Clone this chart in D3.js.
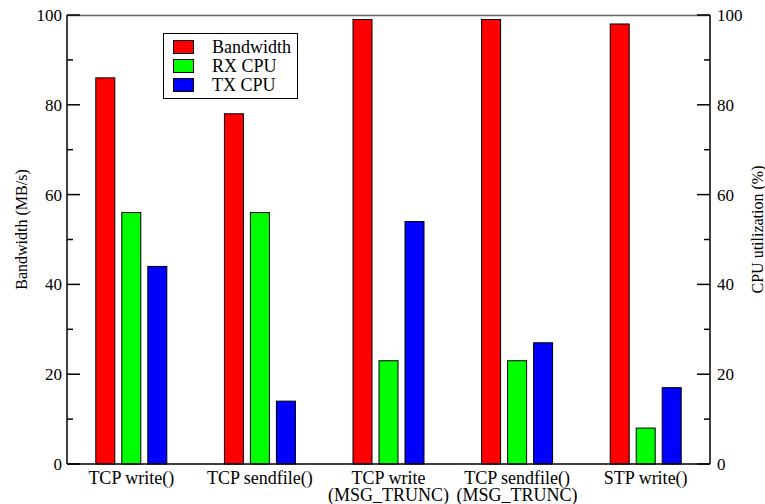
<!DOCTYPE html>
<html>
<head>
<meta charset="utf-8">
<script src="https://cdn.jsdelivr.net/npm/d3@7"></script>
<style>
  body { margin: 0; background: #fff; }
</style>
</head>
<body>
<div id="chart"></div>
<script>
// Data
const categories = [["TCP write()"], ["TCP sendfile()"], ["TCP write", "(MSG_TRUNC)"], ["TCP sendfile()", "(MSG_TRUNC)"], ["STP write()"]];
const seriesNames = ["Bandwidth", "RX CPU", "TX CPU"];
const bandwidth = [86, 78, 99, 99, 98];
const rxCpu = [56, 56, 23, 23, 8];
const txCpu = [44, 14, 54, 27, 17];
const majorTicks = [0, 20, 40, 60, 80, 100];
const minorTicks = [10, 30, 50, 70, 90];

const colors = ["#ff0000", "#00ff00", "#0000ff"];
const series = [bandwidth, rxCpu, txCpu];

const width = 765, height = 504;
const margin = { left: 67, right: 55, top: 15, bottom: 40 };
const x0 = margin.left, x1 = width - margin.right;
const y0 = height - margin.bottom, y1 = margin.top;
const serif = "'Liberation Serif'";

const svg = d3.select("#chart").append("svg")
    .attr("width", width)
    .attr("height", height);

const x = d3.scaleBand()
    .domain(d3.range(categories.length))
    .range([x0, x1]);
const y = d3.scaleLinear().domain([0, 100]).range([y0, y1]);

const barW = 19, step = 26;

// Frame top line
svg.append("line")
    .attr("x1", x0).attr("x2", x1)
    .attr("y1", y1 + 0.5).attr("y2", y1 + 0.5)
    .attr("stroke", "#666").attr("stroke-width", 1.5);

// Bars
series.forEach((vals, s) => {
    svg.append("g").selectAll("rect")
        .data(vals)
        .enter()
        .append("rect")
        .attr("x", (d, i) => x(i) + x.bandwidth() / 2 + (s - 1) * step - barW / 2)
        .attr("y", d => y(d))
        .attr("width", barW)
        .attr("height", d => y(0) - y(d))
        .attr("fill", colors[s])
        .attr("stroke", "#000")
        .attr("stroke-width", 1);
});

// Left axis
const left = svg.append("g").attr("transform", `translate(${x0},0)`);
left.append("line").attr("x1", 0).attr("x2", 0).attr("y1", y1).attr("y2", y0)
    .attr("stroke", "#000").attr("stroke-width", 1.5);
left.selectAll(".maj").data(majorTicks).enter().append("line")
    .attr("x1", 0).attr("x2", 13).attr("y1", d => y(d)).attr("y2", d => y(d))
    .attr("stroke", "#000").attr("stroke-width", 1.5);
left.selectAll(".min").data(minorTicks).enter().append("line")
    .attr("x1", 0).attr("x2", 6).attr("y1", d => y(d)).attr("y2", d => y(d))
    .attr("stroke", "#000").attr("stroke-width", 1.5);
left.selectAll("text").data(majorTicks).enter().append("text")
    .style("font-family", serif)
    .attr("x", -5).attr("y", d => y(d)).attr("dy", "0.35em")
    .attr("text-anchor", "end").attr("font-size", 17)
    .text(d => d);

// Right axis
const right = svg.append("g").attr("transform", `translate(${x1},0)`);
right.append("line").attr("x1", 0).attr("x2", 0).attr("y1", y1).attr("y2", y0)
    .attr("stroke", "#000").attr("stroke-width", 1.5);
right.selectAll(".maj").data(majorTicks).enter().append("line")
    .attr("x1", 0).attr("x2", -13).attr("y1", d => y(d)).attr("y2", d => y(d))
    .attr("stroke", "#000").attr("stroke-width", 1.5);
right.selectAll(".min").data(minorTicks).enter().append("line")
    .attr("x1", 0).attr("x2", -6).attr("y1", d => y(d)).attr("y2", d => y(d))
    .attr("stroke", "#000").attr("stroke-width", 1.5);
right.selectAll("text").data(majorTicks).enter().append("text")
    .style("font-family", serif)
    .attr("x", 7).attr("y", d => y(d)).attr("dy", "0.35em")
    .attr("text-anchor", "start").attr("font-size", 17)
    .text(d => d);

// Bottom axis
svg.append("line").attr("x1", x0).attr("x2", x1).attr("y1", y0).attr("y2", y0)
    .attr("stroke", "#000").attr("stroke-width", 1.5);
const cat = svg.append("g").selectAll("text")
    .data(categories)
    .enter()
    .append("text")
    .style("font-family", serif)
    .attr("text-anchor", "middle")
    .attr("font-size", 18);
cat.each(function (lines, i) {
    lines.forEach((t, k) => {
        d3.select(this).append("tspan")
            .attr("x", x(i) + x.bandwidth() / 2)
            .attr("y", y0 + 19.5 + k * 17)
            .text(t);
    });
});

// Axis titles
svg.append("text")
    .style("font-family", serif)
    .attr("transform", `translate(27,${(y0 + y1) / 2 - 10}) rotate(-90)`)
    .attr("text-anchor", "middle").attr("font-size", 16)
    .text("Bandwidth (MB/s)");
svg.append("text")
    .style("font-family", serif)
    .attr("transform", `translate(763,${(y0 + y1) / 2 - 10}) rotate(-90)`)
    .attr("text-anchor", "middle").attr("font-size", 16)
    .text("CPU utilization (%)");

// Legend
const lg = svg.append("g").attr("transform", "translate(163.5,33.5)");
lg.append("rect").attr("width", 134).attr("height", 65)
    .attr("fill", "#fff").attr("stroke", "#000").attr("stroke-width", 1);
seriesNames.forEach((name, s) => {
    lg.append("rect")
        .attr("x", 10).attr("y", 7 + s * 19)
        .attr("width", 20).attr("height", 13)
        .attr("fill", colors[s]).attr("stroke", "#000").attr("stroke-width", 1);
    lg.append("text")
        .style("font-family", serif)
        .attr("x", 48.5).attr("y", 13.5 + s * 19).attr("dy", "0.35em")
        .attr("font-size", 18)
        .text(name);
});
</script>
</body>
</html>
